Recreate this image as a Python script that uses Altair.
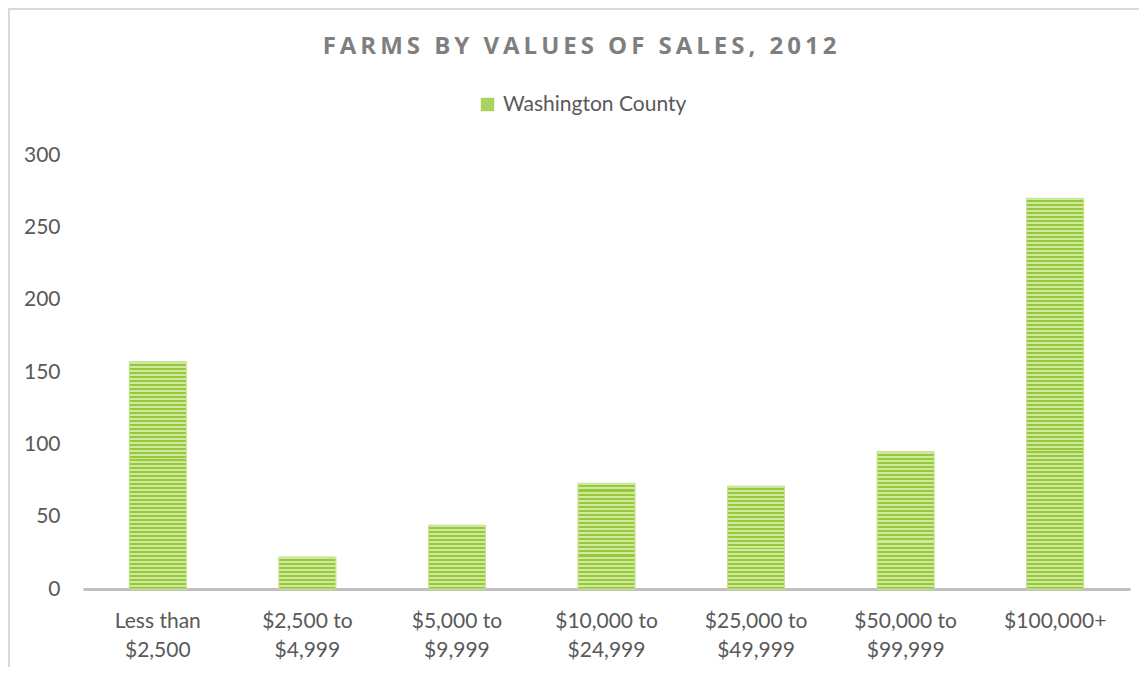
import altair as alt
import pandas as pd

# ---- data ----
categories = ["Less than $2,500", "$2,500 to $4,999", "$5,000 to $9,999",
              "$10,000 to $24,999", "$25,000 to $49,999", "$50,000 to $99,999",
              "$100,000+"]
farms = [157, 22, 44, 73, 71, 95, 270]
series_name = "Washington County"
y_ticks = [0, 50, 100, 150, 200, 250, 300]
title_text = "FARMS BY VALUES OF SALES, 2012"

df = pd.DataFrame({"category": categories, "farms": farms,
                   "series": [series_name] * len(categories)})

W, H = 1047, 434
Y_MAX = 300
DARK = "#95C83B"
LIGHT = "#D0E8A0"
MID = "#A9D25E"
FONT = "Lato"
TXT = "#595959"

# letter-spaced title (thin spaces between the letters, as in the reference)
title_display = "\u2009".join(title_text)

x_enc = alt.X(
    "category:N", sort=categories,
    scale=alt.Scale(paddingInner=0.62, paddingOuter=0.31),
    axis=alt.Axis(
        title=None, labelAngle=0, domainColor="#BFBFBF", domainWidth=3,
        ticks=False, tickSize=0, labelPadding=21, labelFontSize=21,
        labelColor=TXT, labelFont=FONT, labelLineHeight=29,
        labelExpr="split(replace(replace(datum.label, ' to ', ' to|'), 'than ', 'than|'), '|')",
    ),
)
y_enc = alt.Y(
    "farms:Q",
    scale=alt.Scale(domain=[0, Y_MAX], nice=False),
    axis=alt.Axis(
        title=None, values=y_ticks, grid=False, domain=False, ticks=False,
        tickSize=0, labelPadding=23, labelFontSize=21, labelColor=TXT,
        labelFont=FONT,
    ),
)

base = alt.Chart(df).mark_bar(stroke="#C9E394", strokeWidth=1).encode(
    x=x_enc, y=y_enc,
    color=alt.Color(
        "series:N", scale=alt.Scale(range=[MID]),
        legend=alt.Legend(
            title=None, orient="none", legendX=394, legendY=-61,
            symbolType="square", symbolSize=180, symbolStrokeWidth=0,
            labelFontSize=21, labelColor=TXT, labelFont=FONT, padding=0,
            labelOffset=5, labelLimit=400,
        ),
    ),
)


def stripe_gradient(value):
    px = value * H / Y_MAX
    n = max(1, round(px / 4))
    stops = []
    for k in range(n):
        a = k / n
        b = (k + 0.5) / n
        c = (k + 1) / n
        stops += [alt.GradientStop(color=LIGHT, offset=a),
                  alt.GradientStop(color=LIGHT, offset=b),
                  alt.GradientStop(color=DARK, offset=b),
                  alt.GradientStop(color=DARK, offset=c)]
    return alt.LinearGradient(gradient="linear", stops=stops,
                              x1=0, x2=0, y1=0, y2=1)


stripe_layers = []
for cat, val in zip(categories, farms):
    stripe_layers.append(
        alt.Chart(df).transform_filter(alt.datum.category == cat)
        .mark_bar(color=stripe_gradient(val), stroke="#C9E394", strokeWidth=1)
        .encode(x=x_enc, y=y_enc)
    )

border_left = alt.Chart(df).mark_rule(color="#D9D9D9", strokeWidth=2).encode(
    x=alt.value(-74), y=alt.value(-147), y2=alt.value(H + 78))
border_top = alt.Chart(df).mark_rule(color="#D9D9D9", strokeWidth=2).encode(
    x=alt.value(-75), x2=alt.value(W + 9), y=alt.value(-146))

chart = alt.layer(base, *stripe_layers, border_left, border_top).properties(
    width=W, height=H,
    title=alt.TitleParams(
        title_display, font="Open Sans", fontSize=24, fontWeight="bold",
        color="#7F7F7F", anchor="middle", dx=-27, offset=-52,
    ),
    autosize=alt.AutoSizeParams(type="none"),
    padding={"left": 75, "top": 147, "right": 9, "bottom": 78},
).configure(
    background="white",
    view=alt.ViewConfig(strokeWidth=0, stroke="transparent"),
)

chart.save("out.html", embed_options={"renderer": "svg", "actions": False})
